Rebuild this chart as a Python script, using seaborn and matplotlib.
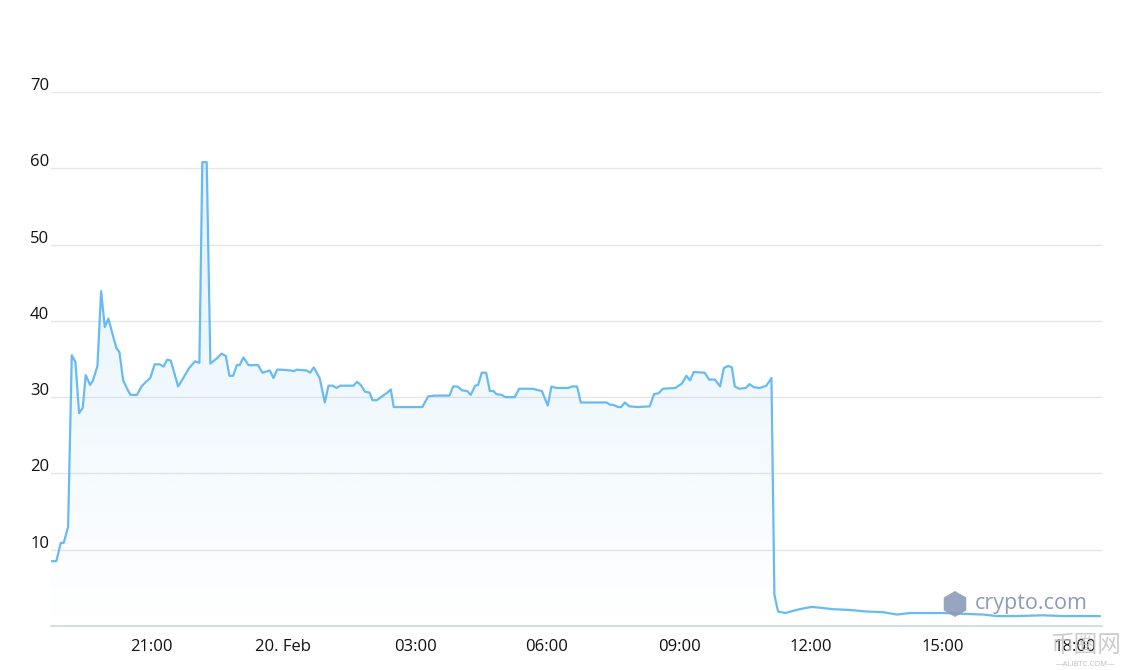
import matplotlib
matplotlib.use("Agg")
import matplotlib.pyplot as plt
import matplotlib.dates as mdates
from matplotlib.ticker import FuncFormatter
from matplotlib.transforms import ScaledTranslation
from matplotlib.patches import Polygon, RegularPolygon
import seaborn as sns
import pandas as pd
import numpy as np

# minutes after the chart start (19 Feb 18:43) and the price
start_time = "2020-02-19 18:43"
minutes = [0, 8, 14, 18, 24, 29, 34, 39, 44, 48, 54, 58, 64, 69, 74, 79, 85, 90,
           94, 99, 105, 109, 118, 124, 130, 136, 142, 149, 154, 159, 164, 174,
           181, 189, 197, 203, 207, 213, 218, 227, 233, 239, 244, 249, 254, 258,
           263, 270, 283, 289, 299, 304, 309, 315, 327, 332, 335, 349, 354, 359,
           367, 374, 379, 385, 390, 395, 413, 418, 423, 429, 435, 439, 445, 452,
           458, 464, 468, 507, 515, 524, 544, 549, 555, 561, 568, 573, 579, 583,
           588, 594, 599, 604, 608, 615, 620, 633, 639, 658, 665, 670, 678, 683,
           690, 706, 711, 718, 723, 740, 758, 763, 767, 774, 778, 783, 789, 801,
           817, 823, 829, 835, 852, 861, 867, 872, 877, 892, 898, 906, 913, 918,
           924, 929, 933, 939, 948, 953, 959, 967, 976, 983, 987, 992, 1002, 1013,
           1026, 1038, 1049, 1067, 1090, 1113, 1136, 1154, 1172, 1195, 1217, 1245,
           1272, 1290, 1317, 1353, 1381, 1431]
prices = [8.5, 8.5, 10.9, 10.9, 13.0, 35.5, 34.6, 27.9, 28.6, 32.9, 31.6, 32.2,
          34.1, 43.9, 39.2, 40.3, 38.1, 36.4, 35.9, 32.2, 31.0, 30.3, 30.3, 31.4,
          32.0, 32.5, 34.3, 34.3, 34.0, 34.9, 34.8, 31.4, 32.5, 33.8, 34.7, 34.5,
          60.8, 60.8, 34.4, 35.1, 35.7, 35.4, 32.8, 32.8, 34.2, 34.2, 35.2, 34.2,
          34.2, 33.2, 33.5, 32.5, 33.6, 33.6, 33.5, 33.4, 33.6, 33.5, 33.2, 33.9,
          32.5, 29.3, 31.5, 31.5, 31.2, 31.5, 31.5, 32.0, 31.6, 30.7, 30.6, 29.6,
          29.6, 30.1, 30.5, 31.0, 28.7, 28.7, 30.1, 30.2, 30.2, 31.4, 31.4, 30.9,
          30.8, 30.3, 31.5, 31.6, 33.2, 33.2, 30.8, 30.8, 30.4, 30.3, 30.0, 30.0,
          31.1, 31.1, 30.9, 30.8, 28.9, 31.4, 31.2, 31.2, 31.4, 31.4, 29.3, 29.3,
          29.3, 29.0, 29.0, 28.7, 28.7, 29.3, 28.8, 28.7, 28.8, 30.4, 30.5, 31.1,
          31.2, 31.8, 32.8, 32.2, 33.3, 33.2, 32.3, 32.3, 31.4, 33.8, 34.1, 33.9,
          31.4, 31.1, 31.2, 31.7, 31.3, 31.2, 31.5, 32.5, 4.1, 1.9, 1.7, 2.0,
          2.3, 2.5, 2.4, 2.2, 2.1, 1.9, 1.8, 1.5, 1.7, 1.7, 1.7, 1.6,
          1.5, 1.3, 1.3, 1.4, 1.3, 1.3]
y_ticks = [10, 20, 30, 40, 50, 60, 70]

df = pd.DataFrame({
    "time": pd.Timestamp(start_time) + pd.to_timedelta(minutes, unit="min"),
    "price": prices,
})

sns.set_style("white")
plt.rcParams["font.family"] = ["Open Sans", "Noto Sans CJK SC", "DejaVu Sans"]

line_color = "#68bbf2"
axis_color = "#ccd6eb"

fig = plt.figure(figsize=(11.28, 6.70), dpi=100)
ax = fig.add_axes([50.5 / 1128, 44 / 670, 1051 / 1128, 534 / 670])

sns.lineplot(data=df, x="time", y="price", ax=ax, color=line_color,
             linewidth=1.6, zorder=3)

t0 = pd.Timestamp(start_time)
t1 = t0 + pd.Timedelta(minutes=1433)
ax.set_xlim(t0, t1)
ax.set_ylim(0, 70)

# gradient area under the line
xnum = mdates.date2num(df["time"])
verts = np.column_stack([np.r_[xnum[0], xnum, xnum[-1]],
                         np.r_[0, df["price"].values, 0]])
clip = Polygon(verts, closed=True, facecolor="none", edgecolor="none")
ax.add_patch(clip)
grad = np.zeros((256, 1, 4))
grad[..., 0] = 104 / 255
grad[..., 1] = 187 / 255
grad[..., 2] = 242 / 255
grad[..., 3] = np.linspace(0.0, 0.22, 256)[:, None]
img = ax.imshow(grad, aspect="auto", origin="lower",
                extent=[mdates.date2num(t0), mdates.date2num(t1), 0, 70],
                zorder=2, interpolation="bilinear")
img.set_clip_path(clip)

# grid and axes
ax.set_yticks(y_ticks)
ax.yaxis.grid(True, color="#e6e6e6", linewidth=1)
ax.set_axisbelow(True)
for side in ["top", "right", "left"]:
    ax.spines[side].set_visible(False)
ax.spines["bottom"].set_color(axis_color)
ax.spines["bottom"].set_linewidth(1.2)

ax.xaxis.set_major_locator(mdates.HourLocator(byhour=range(0, 24, 3)))
ax.xaxis.set_major_formatter(FuncFormatter(
    lambda v, pos: "20. Feb" if mdates.num2date(v).hour == 0
    else mdates.num2date(v).strftime("%H:%M")))
ax.tick_params(axis="x", direction="out", length=7.5, width=1, color=axis_color,
               labelsize=12, labelcolor="#111111", pad=2)
ax.tick_params(axis="y", length=0, labelsize=12, labelcolor="#111111", pad=1)
for lab in ax.get_yticklabels():
    lab.set_transform(lab.get_transform() + ScaledTranslation(0, 8 / 100, fig.dpi_scale_trans))

ax.set_xlabel("")
ax.set_ylabel("")

# watermarks
fig.patches.append(RegularPolygon((9.55, 0.66), 6, radius=0.13,
                                  transform=fig.dpi_scale_trans, facecolor="#8e9ab8",
                                  edgecolor="none", alpha=0.9, zorder=5))
fig.text(975 / 1128, 67 / 670, "crypto.com", fontsize=15.5, color="#8e9ab8",
         va="center", ha="left", zorder=5)
fig.text(1086 / 1128, 24 / 670, "币圈网", fontsize=17, color="#c4c4c4",
         va="center", ha="center", alpha=0.85)
fig.text(1086 / 1128, 6 / 670, "—ALIBTC.COM—", fontsize=5.5, color="#bdbdbd",
         va="center", ha="center")

plt.savefig("out.png", dpi=100)
